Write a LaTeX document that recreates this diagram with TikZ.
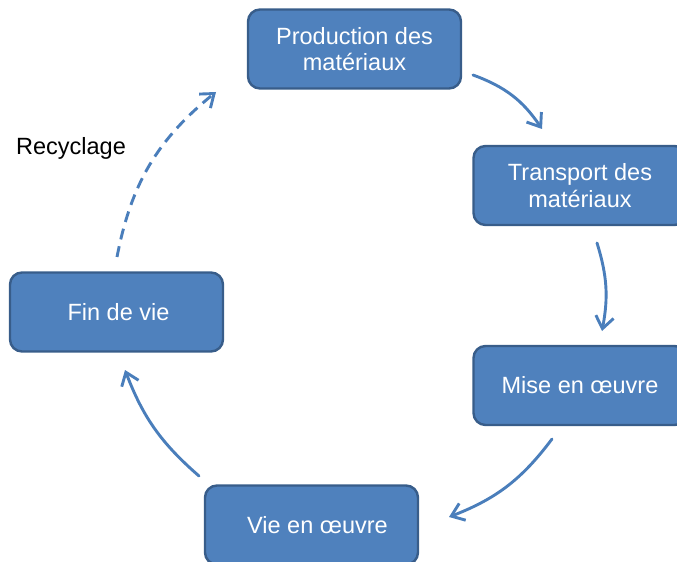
\documentclass[tikz,border=0pt]{standalone}
\usepackage{fontspec}
\setmainfont{Liberation Sans}
\usetikzlibrary{arrows.meta}
\definecolor{boxfill}{HTML}{4F81BD}
\definecolor{boxline}{HTML}{385D8A}
\definecolor{arrowc}{HTML}{4A7EBB}
\tikzset{
  stagebox/.style={draw=boxline, line width=2.4bp, fill=boxfill, rounded corners=12bp,
    minimum width=213bp, minimum height=79bp, inner sep=0pt, align=center,
    text=white, font=\fontsize{23.5bp}{26.5bp}\selectfont},
  flow/.style={draw=arrowc, line width=2.9bp, line cap=round,
    -{Straight Barb[length=12bp,width=18bp,line width=2.9bp]}},
  flowdash/.style={flow, dash pattern=on 11bp off 7bp, line cap=butt},
  lbl/.style={text=black, font=\fontsize{23.5bp}{26.5bp}\selectfont, inner sep=0pt}
}
\begin{document}
\begin{tikzpicture}[x=1bp,y=-1bp]
\useasboundingbox (0,0) rectangle (677,562);
\node[stagebox] (prod) at (354.5,49) {Production des\\matériaux};
\node[stagebox] (trans) at (580,185.5) {Transport des\\matériaux};
\node[stagebox] (mise) at (580,385.5) {Mise en œuvre};
\node[stagebox] (vie) at (311.5,525) {\hspace*{12bp}Vie en œuvre};
\node[stagebox] (fin) at (116.5,312) {\hspace*{4bp}Fin de vie};
\node[lbl] (rec) at (71,148) {Recyclage};
\coordinate (a1s) at (473,75);
\coordinate (a1e) at (542,129);
\coordinate (a2s) at (597,243);
\coordinate (a2e) at (602,331);
\coordinate (a3s) at (552,439);
\coordinate (a3e) at (449,517);
\coordinate (a4s) at (199,476);
\coordinate (a4e) at (125,370);
\coordinate (a5s) at (117,257);
\coordinate (a5e) at (216,92);
\draw[flow] (a1s) to[bend left=18] (a1e);
\draw[flow] (a2s) to[bend left=14] (a2e);
\draw[flow] (a3s) to[bend left=16] (a3e);
\draw[flow] (a4s) to[bend left=14] (a4e);
\draw[flowdash] (a5s) to[bend left=20] (a5e);
\end{tikzpicture}
\end{document}
